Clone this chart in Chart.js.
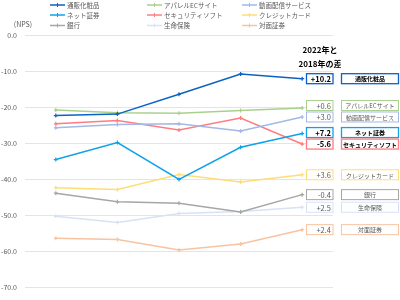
<!DOCTYPE html>
<html><head><meta charset="utf-8">
<script src="https://cdn.jsdelivr.net/npm/chart.js@4.4.1/dist/chart.umd.min.js"></script>
<style>html,body{margin:0;padding:0;background:#fff}#wrap{width:400px;height:300px;position:relative}</style>
</head><body><div id="wrap"><canvas id="c" width="400" height="300"></canvas></div>
<script>
const years = ['2018','2019','2020','2021','2022'];
const seriesNames = ['通販化粧品','アパレルECサイト','動画配信サービス','ネット証券','セキュリティソフト','クレジットカード','銀行','生命保険','対面証券'];
const s通販化粧品 = [-22.3,-21.9,-16.4,-10.8,-12.1];
const sアパレル = [-20.8,-21.5,-21.7,-20.9,-20.2];
const s動画配信 = [-25.7,-24.8,-24.6,-26.6,-22.7];
const sネット証券 = [-34.5,-29.8,-40.0,-31.1,-27.3];
const sセキュリティ = [-24.6,-23.7,-26.3,-23.0,-30.2];
const sクレジット = [-42.3,-42.8,-38.6,-40.7,-38.7];
const s銀行 = [-43.8,-46.2,-46.6,-49.0,-44.2];
const s生命保険 = [-50.2,-51.9,-49.4,-48.9,-47.7];
const s対面証券 = [-56.3,-56.6,-59.5,-57.9,-53.9];
const seriesValues = [s通販化粧品,sアパレル,s動画配信,sネット証券,sセキュリティ,sクレジット,s銀行,s生命保険,s対面証券];
const colors = ['#0B62C4','#A9D18E','#A3B8E6','#0EA2E8','#FF7C80','#FFDD75','#A6A6A6','#D7E2F5','#F7C3A0'];
const emphasis = [true,false,false,true,true,false,false,false,false];
const yTicks = [0,-10,-20,-30,-40,-50,-60,-70];
const headingLines = ['2022年と','2018年の差'];
const FONT = '"Noto Sans CJK JP", "Noto Sans", sans-serif';

const overlay = {
  id:'overlay',
  afterDraw(chart){
    const ctx = chart.ctx;
    const y = chart.scales.y;
    ctx.save();
    // legend
    const lx=[50,147,242], ly=[5,15,25.5];
    ctx.font = '6.5px '+FONT;
    ctx.textBaseline='middle';
    chart.data.datasets.forEach((ds,i)=>{
      const x=lx[i%3], yy=ly[Math.floor(i/3)];
      ctx.strokeStyle=ds.borderColor; ctx.lineWidth=1.5;
      ctx.beginPath(); ctx.moveTo(x,yy); ctx.lineTo(x+15,yy); ctx.stroke();
      ctx.lineWidth=1;
      ctx.beginPath(); ctx.moveTo(x+7.5,yy-2); ctx.lineTo(x+7.5,yy+2); ctx.stroke();
      ctx.fillStyle='#595959'; ctx.textAlign='left';
      ctx.fillText(ds.label,x+17,yy+0.5);
    });
    // NPS label
    ctx.fillStyle='#595959'; ctx.font='7px '+FONT; ctx.textAlign='center';
    ctx.fillText('(NPS)',23,24);
    // heading
    ctx.fillStyle='#000'; ctx.font='bold 8px '+FONT;
    ctx.fillText(headingLines[0],320,50);
    ctx.fillText(headingLines[1],320,64);
    // right labels
    const centers = seriesValues.map(v=>y.getPixelForValue(v[v.length-1]));
    const order = centers.map((c,i)=>i).sort((a,b)=>centers[a]-centers[b]);
    for(let k=1;k<order.length;k++){
      const a=order[k-1], b=order[k];
      if(centers[b]-centers[a]<11.5){ centers[a]=centers[b]-11.5; }
    }
    seriesValues.forEach((v,i)=>{
      const d = v[v.length-1]-v[0];
      const txt = (d>=0?'+':'')+d.toFixed(1);
      const cy = centers[i], h=10;
      const em = emphasis[i];
      ctx.lineWidth = em?1.3:1;
      ctx.strokeStyle = colors[i];
      ctx.fillStyle='#fff';
      ctx.fillRect(306,cy-h/2,27,h);
      ctx.strokeRect(306.5,cy-h/2,26.5,h);
      ctx.fillRect(341.5,cy-h/2,57,h);
      ctx.strokeRect(341.5,cy-h/2,57,h);
      ctx.fillStyle = em?'#000':'#595959';
      ctx.font = (em?'bold ':'')+'7.5px '+FONT;
      ctx.textAlign='right'; ctx.textBaseline='middle';
      ctx.fillText(txt,331,cy+0.5);
      ctx.font = (em?'bold ':'')+'6px '+FONT;
      ctx.textAlign='center';
      ctx.fillText(seriesNames[i],370,cy+0.5);
    });
    ctx.restore();
  }
};

new Chart(document.getElementById('c'),{
  type:'line',
  data:{
    labels:years,
    datasets:seriesNames.map((n,i)=>({
      label:n, data:seriesValues[i], borderColor:colors[i], backgroundColor:colors[i],
      borderWidth:1.5, pointStyle:'cross', pointRadius:2, pointBorderWidth:1.2,
      tension:0, fill:false
    }))
  },
  options:{
    responsive:false, animation:false, devicePixelRatio:1,
    layout:{padding:{left:0,right:67,top:35,bottom:7}},
    plugins:{legend:{display:false},tooltip:{enabled:false}},
    scales:{
      x:{display:false, offset:true},
      y:{min:-70,max:0,
        afterFit(s){s.width=25;},
        border:{display:false},
        grid:{color:'#E4E4E4',lineWidth:1,drawTicks:false},
        ticks:{stepSize:10,padding:8,color:'#595959',font:{size:7,family:FONT},
          callback:(v)=>yTicks.includes(v)?v.toFixed(1):''}
      }
    }
  },
  plugins:[overlay]
});
</script></body></html>
